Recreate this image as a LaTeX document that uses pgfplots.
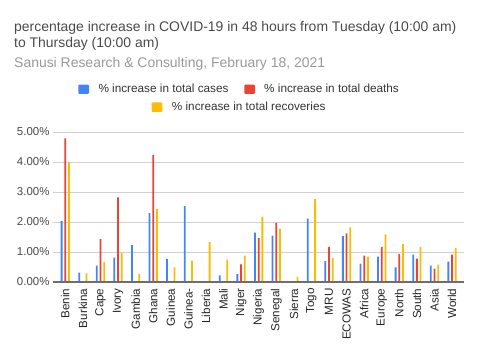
\documentclass[border=0pt]{standalone}
\usepackage{fontspec}
\setmainfont{Liberation Sans}
\usepackage{pgfplots}
\pgfplotsset{compat=1.18}
\definecolor{cblue}{HTML}{4285F4}
\definecolor{cred}{HTML}{EA4335}
\definecolor{cyellow}{HTML}{FBBC04}
\definecolor{ttl}{HTML}{4A4A4A}
\definecolor{sub}{HTML}{999999}
\definecolor{gridc}{HTML}{D0D0D0}
\definecolor{basec}{HTML}{6E6E6E}
\begin{document}
\begin{tikzpicture}
\path[use as bounding box] (0,0) rectangle (480bp,360bp);
\node[anchor=base west, text=ttl, font=\fontsize{14}{16}\selectfont, inner sep=0pt] at (14bp,328.5bp) {percentage increase in COVID-19 in 48 hours from Tuesday (10:00 am)};
\node[anchor=base west, text=ttl, font=\fontsize{14}{16}\selectfont, inner sep=0pt] at (14bp,312.5bp) {to Thursday (10:00 am)};
\node[anchor=base west, text=sub, font=\fontsize{14}{16}\selectfont, inner sep=0pt] at (14bp,292.8bp) {Sanusi Research \& Consulting, February 18, 2021};
% legend
\fill[cblue, rounded corners=1bp] (78.3bp,266bp) rectangle (89bp,275.3bp);
\node[anchor=base west, text=ttl!70!black, font=\fontsize{11.8}{14}\selectfont, inner sep=0pt] at (98.3bp,267bp) {\% increase in total cases};
\fill[cred, rounded corners=1bp] (244.3bp,266bp) rectangle (255bp,275.3bp);
\node[anchor=base west, text=ttl!70!black, font=\fontsize{11.8}{14}\selectfont, inner sep=0pt] at (264bp,267bp) {\% increase in total deaths};
\fill[cyellow, rounded corners=1bp] (151.7bp,248bp) rectangle (162.3bp,257.5bp);
\node[anchor=base west, text=ttl!70!black, font=\fontsize{11.8}{14}\selectfont, inner sep=0pt] at (171.7bp,249.7bp) {\% increase in total recoveries};
\begin{axis}[
  at={(53bp,78bp)}, anchor=south west,
  scale only axis, width=411bp, height=150bp,
  xmin=-0.7, xmax=22.68, ymin=0, ymax=5,
  axis line style={draw=none},
  major tick length=0pt,
  ytick={0,1,2,3,4,5},
  yticklabels={0.00\%,1.00\%,2.00\%,3.00\%,4.00\%,5.00\%},
  yticklabel style={font=\fontsize{11.5}{13}\selectfont, text=ttl},
  ymajorgrids, grid style={gridc, line width=0.8bp},
  xtick={0,...,22},
  xticklabels={Benin,Burkina,Cape,Ivory,Gambia,Ghana,Guinea,Guinea-,Liberia,Mali,Niger,Nigeria,Senegal,Sierra,Togo,MRU,ECOWAS,Africa,Europe,North,South,Asia,World},
  xticklabel style={rotate=90, anchor=east, font=\fontsize{11.7}{13}\selectfont, text=black!85},
  xticklabel shift=3bp,
  ybar, bar width=1.8bp,
  clip=false,
]
\addplot[fill=cblue, draw=none, bar shift=-3.7bp] coordinates {
(0,2.04) (1,0.31) (2,0.55) (3,0.81) (4,1.23) (5,2.30) (6,0.77) (7,2.53) (9,0.22) (10,0.26) (11,1.65) (12,1.55) (13,0.03) (14,2.11) (15,0.70) (16,1.53) (17,0.61) (18,0.85) (19,0.49) (20,0.91) (21,0.55) (22,0.68)};
\addplot[fill=cred, draw=none, bar shift=0bp] coordinates {
(0,4.79) (2,1.43) (3,2.82) (5,4.23) (10,0.59) (11,1.46) (12,1.97) (15,1.17) (16,1.62) (17,0.88) (18,1.17) (19,0.94) (20,0.78) (21,0.45) (22,0.91)};
\addplot[fill=cyellow, draw=none, bar shift=3.7bp] coordinates {
(0,3.99) (1,0.29) (2,0.67) (3,0.97) (4,0.26) (5,2.43) (6,0.49) (7,0.71) (8,1.33) (9,0.75) (10,0.88) (11,2.17) (12,1.78) (13,0.17) (14,2.76) (15,0.80) (16,1.82) (17,0.85) (18,1.59) (19,1.26) (20,1.17) (21,0.58) (22,1.14)};
\draw[basec, line width=1.3bp] (rel axis cs:0,0) -- (rel axis cs:1,0);
\end{axis}
\end{tikzpicture}
\end{document}
